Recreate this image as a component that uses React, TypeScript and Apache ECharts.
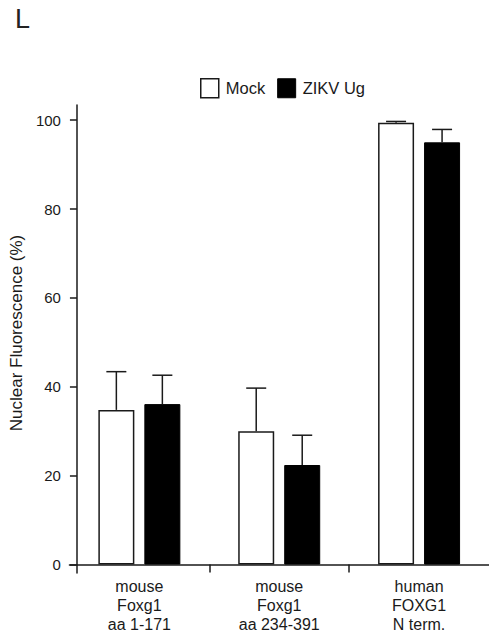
import React, { useEffect, useRef } from "react";
import * as echarts from "echarts";

const categories = ["mouse\nFoxg1\naa 1-171", "mouse\nFoxg1\naa 234-391", "human\nFOXG1\nN term."];
const seriesNames = ["Mock", "ZIKV Ug"];
const mockValues = [34.8, 30.0, 99.4];
const zikvValues = [36.1, 22.4, 95.0];
const mockUpperErr = [8.6, 9.7, 0.3];
const zikvUpperErr = [6.5, 6.7, 2.9];
const yTickValues = [0, 20, 40, 60, 80, 100];
const yMin = -1.9;
const yMax = 103.4;

const FONT = "'Liberation Sans', Arial, sans-serif";
const INK = "#1a1a1a";
const BAR_W = 36;
const BAR_GAP_PX = 10;

function errSeries(name: string, values: number[], errs: number[], side: number) {
  const data = values.map((v, i) => [i, v, v + errs[i]]);
  return {
    type: "custom",
    name,
    data,
    z: 5,
    renderItem: (params: any, api: any) => {
      const base = api.coord([api.value(0), api.value(1)]);
      const top = api.coord([api.value(0), api.value(2)]);
      const cx = base[0] + side * (BAR_W + BAR_GAP_PX) / 2;
      const style = { stroke: INK, lineWidth: 1.5, fill: null };
      return {
        type: "group",
        children: [
          { type: "line", shape: { x1: cx, y1: base[1], x2: cx, y2: top[1] }, style },
          { type: "line", shape: { x1: cx - 10, y1: top[1], x2: cx + 10, y2: top[1] }, style },
        ],
      };
    },
  };
}

export default function App() {
  const ref = useRef<HTMLDivElement>(null);
  useEffect(() => {
    if (!ref.current) return;
    const chart = echarts.init(ref.current, undefined, { renderer: "svg" });
    chart.setOption({
      animation: false,
      backgroundColor: "#ffffff",
      textStyle: { fontFamily: FONT },
      title: {
        text: "L",
        left: 15,
        top: 5,
        padding: 0,
        textStyle: { fontSize: 27, fontWeight: "normal", color: "#222", fontFamily: FONT },
      },
      legend: {
        left: 200,
        top: 78,
        padding: 0,
        itemWidth: 18,
        itemHeight: 19,
        itemGap: 12,
        icon: "rect",
        textStyle: { fontSize: 16.5, color: INK, fontFamily: FONT, padding: [0, 0, 0, 2] },
        data: [
          { name: seriesNames[0], itemStyle: { color: "#ffffff", borderColor: INK, borderWidth: 1.5 } },
          { name: seriesNames[1], itemStyle: { color: "#000000", borderColor: "#000000", borderWidth: 1 } },
        ],
      },
      grid: { left: 67.5, right: -1.5, top: 105, bottom: 69, containLabel: false },
      xAxis: {
        type: "category",
        data: categories,
        axisLine: { show: true, onZero: true, lineStyle: { color: INK, width: 1.5 } },
        axisTick: {
          show: true,
          length: 8,
          interval: (i: number) => i !== 0,
          lineStyle: { color: INK, width: 1.5 },
        },
        axisLabel: {
          margin: 4,
          fontSize: 16,
          lineHeight: 19,
          color: INK,
          fontFamily: FONT,
          interval: 0,
        },
        splitLine: { show: false },
      },
      yAxis: {
        type: "value",
        min: yMin,
        max: yMax,
        offset: -7.5,
        name: "Nuclear Fluorescence (%)",
        nameLocation: "middle",
        nameGap: 50,
        nameTextStyle: { fontSize: 17, color: INK, fontFamily: FONT, padding: [0, 0, 0, 12] },
        axisLine: { show: true, lineStyle: { color: INK, width: 1.5 } },
        axisTick: { show: true, length: 7, customValues: yTickValues, lineStyle: { color: INK, width: 1.5 } },
        axisLabel: {
          customValues: yTickValues,
          margin: 16,
          fontSize: 15,
          color: INK,
          fontFamily: FONT,
          padding: [0, 0, 8, 0],
        },
        splitLine: { show: false },
      },
      series: [
        {
          type: "bar",
          name: seriesNames[0],
          data: mockValues,
          barWidth: BAR_W,
          barGap: `${(BAR_GAP_PX / BAR_W) * 100}%`,
          itemStyle: { color: "#ffffff", borderColor: INK, borderWidth: 1.5 },
        },
        {
          type: "bar",
          name: seriesNames[1],
          data: zikvValues,
          barWidth: BAR_W,
          barGap: `${(BAR_GAP_PX / BAR_W) * 100}%`,
          itemStyle: { color: "#000000", borderColor: "#000000", borderWidth: 1 },
        },
        errSeries("Mock err", mockValues, mockUpperErr, -1),
        errSeries("ZIKV err", zikvValues, zikvUpperErr, 1),
      ],
    });
    return () => chart.dispose();
  }, []);
  return (
    <div
      ref={ref}
      style={{ position: "fixed", left: 0, top: 0, width: 489, height: 642, background: "#fff" }}
    />
  );
}
